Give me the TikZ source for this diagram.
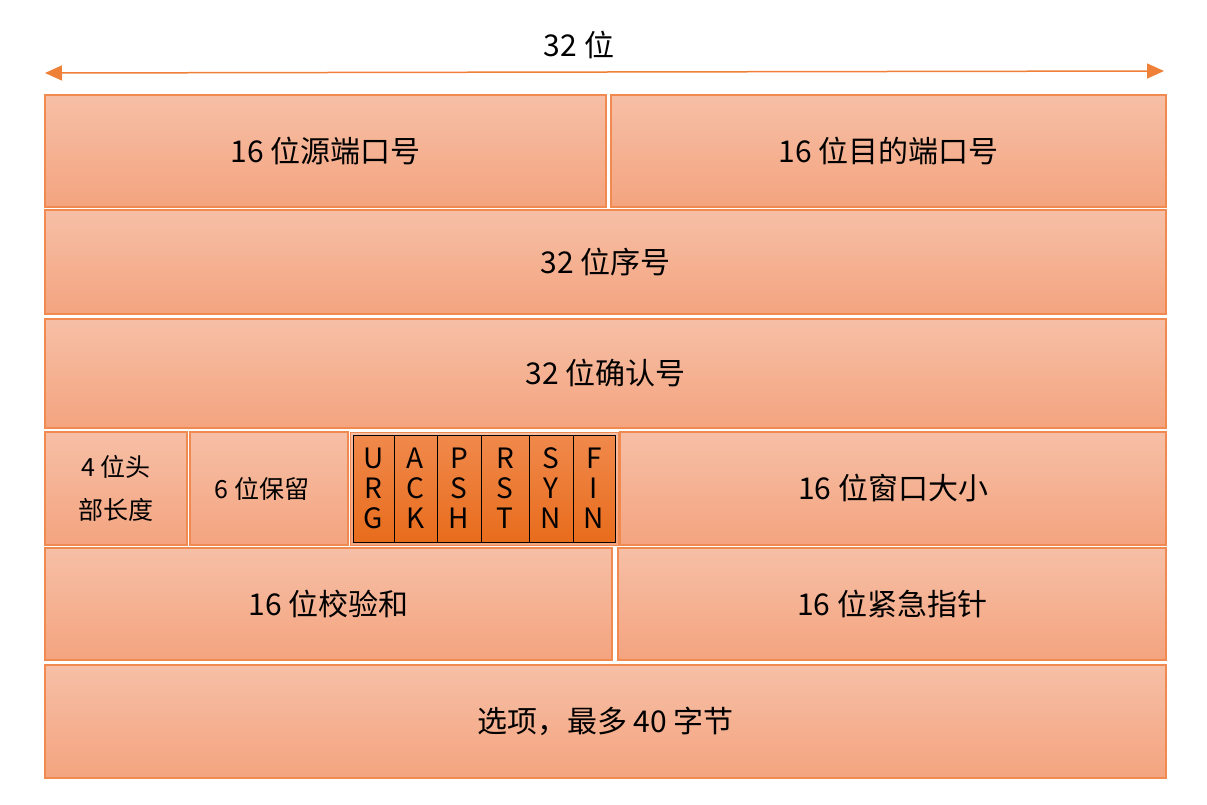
\documentclass[tikz,border=0pt]{standalone}
\usepackage{fontspec}
\setmainfont{Noto Sans CJK SC}
\usetikzlibrary{arrows.meta,positioning}
\definecolor{fieldtop}{HTML}{F6BFA6}
\definecolor{fieldbot}{HTML}{F4A47F}
\definecolor{fieldline}{HTML}{F08A50}
\definecolor{flagtop}{HTML}{F0894C}
\definecolor{flagbot}{HTML}{E86C1C}
\definecolor{arrowcol}{HTML}{EE8038}

\begin{document}
\begin{tikzpicture}[x=1pt,y=-1pt,
field/.style={draw=fieldline,line width=1.2pt,top color=fieldtop,bottom color=fieldbot,
  anchor=north west,inner sep=0pt,outer sep=0pt,font=\fontsize{30}{34}\selectfont},
smallfield/.style={field,font=\fontsize{25}{43}\selectfont,align=center},
flag/.style={draw=black,line width=0.8pt,top color=flagtop,bottom color=flagbot,
  anchor=north west,inner sep=0pt,outer sep=0pt,minimum height=107pt,align=center,
  font=\fontsize{28}{30}\selectfont},]
\useasboundingbox (0,0) rectangle (1207,804);

% width arrow
\node[font=\fontsize{30}{34}\selectfont] (title) at (579,45) {32 位};
\coordinate (leftend) at (45,73);
\coordinate (rightend) at (1164,71);
\draw[arrowcol,line width=1.5pt,{Triangle[length=17pt,width=15pt]}-{Triangle[length=17pt,width=15pt]}] (leftend) -- (rightend);

% row 1
\node[field,minimum width=561pt,minimum height=112pt] (srcport) at (45,95) {16 位源端口号};
\node[field,minimum width=555pt,minimum height=112pt] (dstport) at (611,95) {16 位目的端口号};
% row 2
\node[field,minimum width=1121pt,minimum height=104pt] (seqnum) at (45,210) {32 位序号};
% row 3
\node[field,minimum width=1121pt,minimum height=109pt] (acknum) at (45,319) {32 位确认号};
% row 4
\node[smallfield,minimum width=142pt,minimum height=113pt] (hdrlen) at (45,432) {4 位头\\部长度};
\node[smallfield,minimum width=158pt,minimum height=113pt] (reserved) at (190,432) {6 位保留\hspace{14pt}};
\node[field,minimum width=268pt,minimum height=113pt,line width=0.8pt] (flags) at (350,432) {};
\node[flag,minimum width=41pt] (urg) at (353,435) {U\\R\\G};
\node[flag,minimum width=43pt] (ack) at (394,435) {A\\C\\K};
\node[flag,minimum width=44pt] (psh) at (437,435) {P\\S\\H};
\node[flag,minimum width=48pt] (rst) at (481,435) {R\\S\\T};
\node[flag,minimum width=44pt] (syn) at (529,435) {S\\Y\\N};
\node[flag,minimum width=42pt] (fin) at (573,435) {F\\I\\N};
\node[field,minimum width=546pt,minimum height=113pt] (window) at (620,432) {16 位窗口大小};
% row 5
\node[field,minimum width=567pt,minimum height=112pt] (checksum) at (45,548) {16 位校验和};
\node[field,minimum width=548pt,minimum height=112pt] (urgptr) at (618,548) {16 位紧急指针};
% row 6
\node[field,minimum width=1121pt,minimum height=113pt] (options) at (45,665) {选项，最多 40 字节};
\end{tikzpicture}
\end{document}
